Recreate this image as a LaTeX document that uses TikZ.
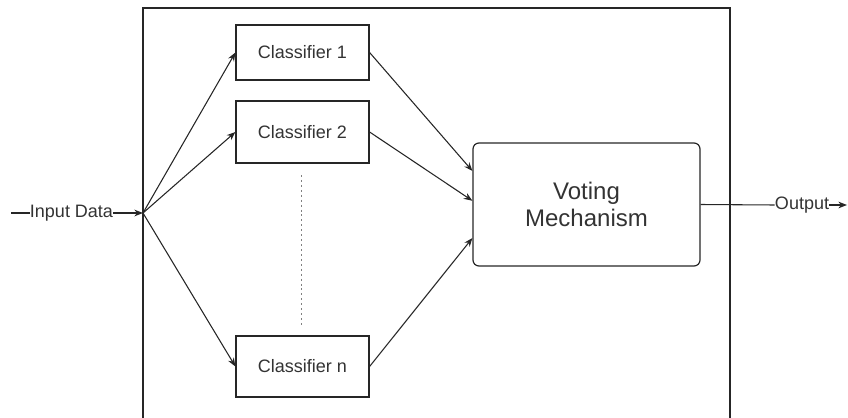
\documentclass[tikz,border=0pt]{standalone}
\usepackage{fontspec}
\setmainfont{Liberation Sans}
\usetikzlibrary{arrows.meta,calc}
\definecolor{txt}{HTML}{333333}
\definecolor{ln}{HTML}{262626}
\begin{document}
\begin{tikzpicture}[x=0.75pt,y=-0.75pt,
  every node/.style={text=txt,font=\fontsize{13.5pt}{16pt}\selectfont},
  clbox/.style={draw=ln,line width=0.9pt,minimum width=99.75pt,inner sep=0pt},
  votebox/.style={draw=ln,line width=0.9pt,rounded corners=4.5pt,minimum width=170.25pt,minimum height=92.25pt,align=center,inner sep=0pt,font=\fontsize{18pt}{20.25pt}\selectfont},
  conn/.style={draw=ln,line width=0.8pt},
  arr/.style={conn,-{Stealth[length=6.5pt,width=5pt]}},
  lbl/.style={inner sep=0pt,fill=white}]
\useasboundingbox (0,0) rectangle (848,417);
% outer frame
\coordinate (fa) at (143,8);
\coordinate (fb) at (730,430);
\draw[ln,line width=0.9pt] (fa) rectangle (fb);
% classifiers
\node[clbox,minimum height=41.25pt] (c1) at (302.5,52.5) {Classifier 1};
\node[clbox,minimum height=46.5pt] (c2) at (302.5,132) {Classifier 2};
\node[clbox,minimum height=45.75pt] (cn) at (302.5,366.5) {Classifier n};
% voting
\node[votebox] (vote) at (586.5,204.5) {Voting\\Mechanism};
% input
\coordinate (inStart) at (11,213);
\coordinate (split) at (143,213);
\node[lbl] (input) at (71.5,213) {Input Data};
\draw[conn] (inStart) -- (input.west);
\draw[arr] (input.east) -- (split);
\draw[arr] (split) -- (c1.west);
\draw[arr] (split) -- (c2.west);
\draw[arr] (split) -- (cn.west);
% to voting
\coordinate (v1) at ($(vote.north west)!0.23!(vote.south west)$);
\coordinate (v2) at ($(vote.north west)!0.47!(vote.south west)$);
\coordinate (v3) at ($(vote.north west)!0.77!(vote.south west)$);
\draw[arr] (c1.east) -- (v1);
\draw[arr] (c2.east) -- (v2);
\draw[arr] (cn.east) -- (v3);
% dots
\coordinate (d1) at (301.3,175);
\coordinate (d2) at (301.3,327);
\draw[gray,line width=0.7pt,dash pattern=on 1.5pt off 2.2pt] (d1) -- (d2);
% output
\node[lbl] (output) at (802,205) {Output};
\coordinate (outEnd) at (847,205);
\draw[conn] (vote.east) -- (output.west);
\draw[arr] (output.east) -- (outEnd);
\end{tikzpicture}
\end{document}
